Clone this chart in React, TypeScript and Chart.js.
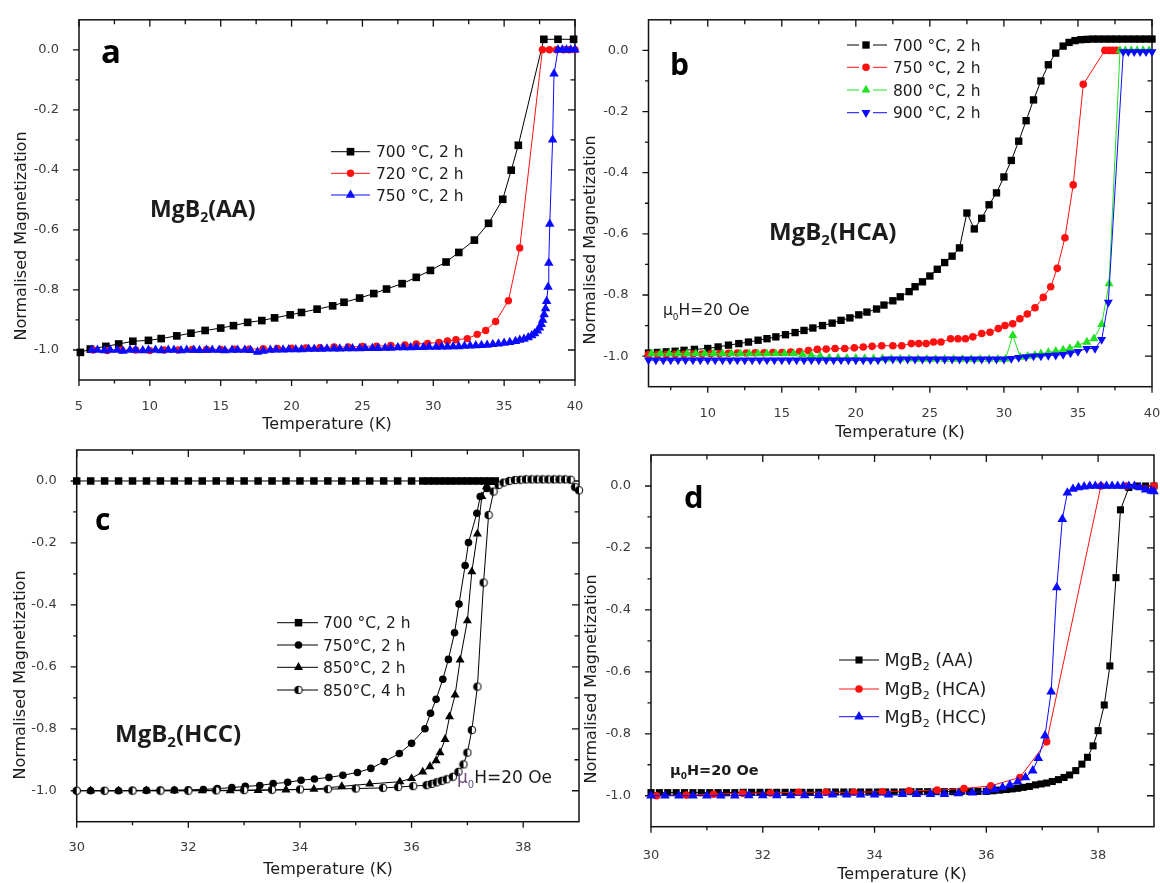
import React, { useEffect, useRef } from 'react';
import { Chart, registerables } from 'chart.js';
import { drawPoint } from 'chart.js/helpers';

Chart.register(...registerables);

const PAGE_W = 1160;
const PAGE_H = 883;
const CANVAS_W = 1200;
const CANVAS_H = 920;
const SANS = '"DejaVu Sans", "Liberation Sans", sans-serif';
const HEAVY = '"Open Sans", "DejaVu Sans", sans-serif';
const INK = '#1c1c1c';
const TICK_COLOR = '#3b3b3b';
const BLACK = '#000000';
const RED = '#ff1010';
const BLUE = '#0a0aff';
const GREEN = '#22e022';

// ---------- axes ----------
const yMajor = [-1.0, -0.8, -0.6, -0.4, -0.2, 0.0];
const yLabels = ['-1.0', '-0.8', '-0.6', '-0.4', '-0.2', '0.0'];
const yMinor = [-0.9, -0.7, -0.5, -0.3, -0.1];
const yRange = [-1.1, 0.1];

const xMajorA = [5, 10, 15, 20, 25, 30, 35, 40];
const xLabelsA = ['5', '10', '15', '20', '25', '30', '35', '40'];
const xMinorA = [7.5, 12.5, 17.5, 22.5, 27.5, 32.5, 37.5];

const xMajorB = [10, 15, 20, 25, 30, 35, 40];
const xLabelsB = ['10', '15', '20', '25', '30', '35', '40'];
const xMinorB = [7.5, 12.5, 17.5, 22.5, 27.5, 32.5, 37.5];

const xMajorCD = [30, 32, 34, 36, 38];
const xLabelsCD = ['30', '32', '34', '36', '38'];
const xMinorCD = [31, 33, 35, 37];

// ---------- (a) MgB2(AA) ----------
const legA = ['700 °C, 2 h', '720 °C, 2 h', '750 °C, 2 h'];
const aT700 = [5.1, 5.8, 6.9, 7.8, 8.8, 9.9, 10.8, 11.9, 12.9, 13.9, 15.0, 15.9, 16.9, 17.9, 18.8, 19.9, 20.7, 21.8, 22.9, 23.7, 24.8, 25.8, 26.7, 27.8, 28.8, 29.8, 30.9, 31.8, 32.9, 33.9, 34.9, 35.5, 36.0, 37.8, 38.8, 39.9];
const aM700 = [-1.008, -0.997, -0.988, -0.98, -0.971, -0.968, -0.962, -0.953, -0.944, -0.935, -0.927, -0.919, -0.908, -0.902, -0.893, -0.883, -0.875, -0.864, -0.853, -0.841, -0.827, -0.812, -0.797, -0.779, -0.758, -0.735, -0.707, -0.675, -0.634, -0.578, -0.498, -0.401, -0.318, 0.035, 0.035, 0.035];
const aT720 = [6.0, 7.0, 8.0, 9.0, 10.0, 11.0, 12.0, 13.0, 14.0, 15.0, 16.0, 17.0, 18.0, 19.0, 20.0, 21.0, 22.0, 23.0, 24.0, 25.0, 26.0, 27.0, 28.0, 28.8, 29.6, 30.4, 31.0, 31.6, 32.4, 33.1, 33.7, 34.4, 35.3, 36.1, 37.7, 38.2, 38.7, 39.2, 39.6, 40.0];
const aM720 = [-1.0, -1.002, -1.0, -1.0, -1.002, -1.0, -1.0, -0.998, -0.998, -0.998, -0.997, -0.997, -0.996, -0.995, -0.994, -0.993, -0.992, -0.99, -0.99, -0.988, -0.987, -0.985, -0.983, -0.98, -0.978, -0.975, -0.97, -0.966, -0.962, -0.948, -0.935, -0.905, -0.836, -0.66, 0, 0, 0, 0, 0, 0];
const aT750 = [5.9, 6.3, 6.8, 7.2, 7.7, 8.1, 8.6, 9.0, 9.5, 9.9, 10.4, 10.8, 11.3, 11.7, 12.2, 12.6, 13.1, 13.5, 14.0, 14.4, 14.9, 15.3, 15.8, 16.2, 16.7, 17.1, 17.6, 18.0, 18.5, 18.9, 19.4, 19.8, 20.3, 20.7, 21.2, 21.6, 22.1, 22.5, 23.0, 23.4, 23.9, 24.3, 24.8, 25.2, 25.7, 26.1, 26.6, 27.0, 27.5, 27.9, 28.4, 28.8, 29.3, 29.7, 30.2, 30.6, 31.0, 31.4, 31.8, 32.2, 32.6, 33.0, 33.4, 33.8, 34.2, 34.6, 35.0, 35.4, 35.8, 36.1, 36.4, 36.7, 36.95, 37.15, 37.35, 37.5, 37.62, 37.72, 37.82, 37.92, 38.0, 38.1, 38.15, 38.22, 38.42, 38.52, 38.8, 39.1, 39.4, 39.7, 40.0];
const aM750 = [-1.0, -1.0, -1.002, -1.0, -1.0, -1.003, -1.0, -1.0, -1.002, -1.0, -1.0, -1.002, -1.0, -1.0, -1.002, -1.0, -1.0, -1.001, -1.0, -1.0, -1.0, -1.002, -1.0, -1.0, -1.0, -1.001, -1.007, -1.003, -1.0, -0.999, -0.999, -0.998, -0.998, -0.998, -0.997, -0.997, -0.997, -0.996, -0.996, -0.996, -0.995, -0.995, -0.995, -0.994, -0.994, -0.994, -0.993, -0.993, -0.992, -0.992, -0.992, -0.991, -0.991, -0.99, -0.99, -0.989, -0.989, -0.988, -0.988, -0.987, -0.986, -0.985, -0.984, -0.983, -0.981, -0.979, -0.977, -0.974, -0.971, -0.967, -0.963, -0.958, -0.952, -0.945, -0.936, -0.926, -0.914, -0.9, -0.882, -0.862, -0.838, -0.79, -0.71, -0.58, -0.3, -0.08, 0, 0, 0, 0, 0];

// ---------- (b) MgB2(HCA) ----------
const legB = ['700 °C, 2 h', '750 °C, 2 h', '800 °C, 2 h', '900 °C, 2 h'];
const bT700 = [6.0, 6.6, 7.2, 7.8, 8.4, 9.1, 10.0, 10.7, 11.4, 12.1, 12.75, 13.4, 14.0, 14.6, 15.25, 15.9, 16.5, 17.1, 17.75, 18.4, 19.0, 19.6, 20.2, 20.75, 21.4, 21.9, 22.5, 23.0, 23.6, 24.0, 24.5, 25.0, 25.5, 26.0, 26.5, 27.0, 27.5, 28.0, 28.5, 29.0, 29.5, 30.0, 30.5, 31.0, 31.5, 32.0, 32.5, 33.0, 33.5, 34.0, 34.4, 34.8, 35.2, 35.6, 36.0, 36.4, 36.8, 37.2, 37.6, 38.0, 38.4, 38.8, 39.2, 39.6, 40.0];
const bM700 = [-0.99, -0.988, -0.986, -0.984, -0.981, -0.978, -0.975, -0.97, -0.964, -0.959, -0.954, -0.948, -0.943, -0.937, -0.93, -0.923, -0.916, -0.908, -0.9, -0.892, -0.883, -0.875, -0.865, -0.856, -0.846, -0.833, -0.819, -0.806, -0.789, -0.773, -0.757, -0.738, -0.716, -0.694, -0.673, -0.646, -0.532, -0.584, -0.549, -0.505, -0.466, -0.414, -0.36, -0.297, -0.23, -0.162, -0.1, -0.047, -0.009, 0.014, 0.026, 0.032, 0.035, 0.036, 0.037, 0.037, 0.037, 0.037, 0.037, 0.037, 0.037, 0.037, 0.037, 0.037, 0.037];
const bT750 = [6.0, 6.6, 7.2, 7.8, 8.4, 9.0, 9.6, 10.2, 10.8, 11.4, 12.0, 12.6, 13.2, 13.8, 14.4, 15.0, 15.6, 16.2, 16.8, 17.4, 18.0, 18.6, 19.25, 19.9, 20.5, 21.1, 21.75, 22.5, 23.1, 23.75, 24.25, 24.75, 25.25, 25.75, 26.4, 26.9, 27.4, 27.9, 28.5, 29.06, 29.62, 30.07, 30.59, 31.08, 31.58, 32.1, 32.66, 33.16, 33.6, 34.12, 34.68, 35.36, 36.82, 37.1, 37.35, 37.6];
const bM750 = [-0.995, -0.995, -0.995, -0.994, -0.994, -0.993, -0.993, -0.992, -0.992, -0.991, -0.99, -0.99, -0.989, -0.989, -0.988, -0.988, -0.987, -0.985, -0.982, -0.978, -0.977, -0.975, -0.975, -0.973, -0.97, -0.968, -0.966, -0.966, -0.966, -0.959, -0.959, -0.959, -0.954, -0.954, -0.943, -0.943, -0.943, -0.937, -0.926, -0.922, -0.91, -0.9, -0.894, -0.878, -0.862, -0.842, -0.808, -0.773, -0.713, -0.613, -0.44, -0.111, 0, 0, 0, 0];
const bT800 = [6.2, 6.8, 7.4, 8.0, 8.6, 9.2, 9.8, 10.4, 11.0, 11.6, 12.2, 12.8, 13.4, 14.0, 14.6, 15.2, 15.8, 16.4, 17.0, 17.6, 18.2, 18.8, 19.4, 20.0, 20.6, 21.2, 21.8, 22.4, 23.0, 23.6, 24.2, 24.8, 25.4, 26.0, 26.6, 27.2, 27.8, 28.4, 29.0, 29.6, 30.1, 30.6, 31.1, 31.6, 32.1, 32.5, 33.0, 33.5, 34.0, 34.45, 35.0, 35.6, 36.08, 36.6, 37.1, 37.84, 38.2, 38.6, 39.0, 39.4, 39.8];
const bM800 = [-0.992, -0.992, -0.992, -0.992, -0.992, -0.992, -0.992, -0.992, -0.992, -0.992, -0.992, -0.992, -0.992, -0.992, -0.992, -0.992, -0.992, -0.995, -0.998, -1.0, -1.006, -1.006, -1.007, -1.007, -1.008, -1.008, -1.008, -1.009, -1.009, -1.009, -1.01, -1.01, -1.01, -1.01, -1.01, -1.01, -1.01, -1.01, -1.01, -1.01, -1.01, -0.932, -1.003, -1.0, -0.997, -0.992, -0.988, -0.984, -0.98, -0.975, -0.964, -0.954, -0.943, -0.896, -0.763, 0, 0, 0, 0, 0, 0];
const bT900 = [6.0, 6.5, 7.0, 7.5, 8.0, 8.5, 9.0, 9.5, 10.0, 10.5, 11.0, 11.5, 12.0, 12.5, 13.0, 13.5, 14.0, 14.5, 15.0, 15.5, 16.0, 16.5, 17.0, 17.5, 18.0, 18.5, 19.0, 19.5, 20.0, 20.5, 21.0, 21.5, 22.0, 22.5, 23.0, 23.5, 24.0, 24.5, 25.0, 25.5, 26.0, 26.5, 27.0, 27.5, 28.0, 28.5, 29.0, 29.5, 30.0, 30.5, 31.0, 31.5, 32.0, 32.5, 33.0, 33.5, 34.0, 34.5, 35.0, 35.6, 36.15, 36.6, 37.05, 38.06, 38.4, 38.8, 39.2, 39.6, 40.0];
const bM900 = [-1.013, -1.013, -1.013, -1.013, -1.013, -1.013, -1.013, -1.013, -1.013, -1.013, -1.013, -1.013, -1.013, -1.013, -1.013, -1.013, -1.013, -1.013, -1.013, -1.013, -1.013, -1.013, -1.013, -1.013, -1.013, -1.013, -1.013, -1.013, -1.013, -1.013, -1.013, -1.013, -1.01, -1.01, -1.01, -1.01, -1.01, -1.01, -1.01, -1.01, -1.01, -1.01, -1.01, -1.01, -1.01, -1.01, -1.01, -1.01, -1.01, -1.008, -1.005, -1.002, -1.0, -1.0, -0.998, -0.997, -0.995, -0.99, -0.985, -0.975, -0.975, -0.946, -0.824, -0.005, -0.005, -0.005, -0.005, -0.005, -0.005];

// ---------- (c) MgB2(HCC) ----------
const legC = ['700 °C, 2 h', '750°C, 2 h', '850°C, 2 h', '850°C, 4 h'];
const cT700 = [30.0, 30.25, 30.5, 30.75, 31.0, 31.25, 31.5, 31.75, 32.0, 32.25, 32.5, 32.75, 33.0, 33.25, 33.5, 33.75, 34.0, 34.25, 34.5, 34.75, 35.0, 35.25, 35.5, 35.75, 36.0, 36.2, 36.3, 36.4, 36.5, 36.6, 36.7, 36.8, 36.9, 37.0, 37.1, 37.2, 37.3, 37.4, 37.5];
const cM700 = [0, 0, 0, 0, 0, 0, 0, 0, 0, 0, 0, 0, 0, 0, 0, 0, 0, 0, 0, 0, 0, 0, 0, 0, 0, 0, 0, 0, 0, 0, 0, 0, 0, 0, 0, 0, 0, 0, 0];
const cT750 = [30.0, 30.25, 30.5, 30.75, 31.0, 31.25, 31.5, 31.75, 32.0, 32.27, 32.52, 32.78, 33.02, 33.28, 33.52, 33.78, 34.02, 34.26, 34.52, 34.77, 35.03, 35.27, 35.51, 35.78, 36.0, 36.24, 36.34, 36.44, 36.56, 36.66, 36.77, 36.85, 36.96, 37.02, 37.17, 37.23, 37.35];
const cM750 = [-1.0, -1.0, -1.0, -1.0, -0.999, -0.999, -0.998, -0.998, -0.997, -0.996, -0.993, -0.99, -0.986, -0.983, -0.977, -0.973, -0.966, -0.962, -0.957, -0.95, -0.941, -0.928, -0.906, -0.88, -0.847, -0.8, -0.75, -0.705, -0.64, -0.576, -0.49, -0.397, -0.273, -0.199, -0.104, -0.05, -0.024];
const cT850a = [30.25, 30.75, 31.25, 31.75, 32.25, 32.75, 33.25, 33.75, 34.25, 34.75, 35.25, 35.79, 36.0, 36.2, 36.33, 36.44, 36.51, 36.6, 36.68, 36.78, 36.87, 37.0, 37.08, 37.18, 37.26, 37.34, 37.45];
const cM850a = [-1.0, -1.0, -1.0, -1.0, -1.0, -1.0, -0.999, -0.997, -0.995, -0.986, -0.978, -0.971, -0.96, -0.939, -0.922, -0.903, -0.877, -0.834, -0.761, -0.691, -0.578, -0.451, -0.293, -0.171, -0.05, -0.018, -0.005];
const cT850b = [30.0, 30.5, 31.0, 31.5, 32.0, 32.5, 33.0, 33.5, 34.0, 34.5, 35.0, 35.49, 35.76, 36.03, 36.27, 36.36, 36.45, 36.54, 36.63, 36.74, 36.84, 36.93, 37.0, 37.08, 37.18, 37.29, 37.38, 37.47, 37.56, 37.65, 37.75, 37.85, 37.95, 38.05, 38.15, 38.25, 38.35, 38.45, 38.55, 38.65, 38.75, 38.85, 38.93, 39.0];
const cM850b = [-1.0, -1.0, -1.0, -1.0, -1.0, -0.999, -0.998, -0.997, -0.996, -0.995, -0.993, -0.991, -0.988, -0.985, -0.982, -0.978, -0.973, -0.968, -0.963, -0.955, -0.939, -0.915, -0.877, -0.804, -0.664, -0.328, -0.11, -0.034, -0.013, -0.005, 0.0, 0.003, 0.004, 0.005, 0.005, 0.005, 0.005, 0.005, 0.005, 0.005, 0.005, 0.004, -0.02, -0.03];

// ---------- (d) comparison ----------
const legD = ['(AA)', '(HCA)', '(HCC)'];
const dT_AA = [30.0, 30.15, 30.3, 30.45, 30.6, 30.75, 30.9, 31.05, 31.2, 31.35, 31.5, 31.65, 31.8, 31.95, 32.1, 32.25, 32.4, 32.55, 32.7, 32.85, 33.0, 33.15, 33.3, 33.45, 33.6, 33.75, 33.9, 34.05, 34.2, 34.35, 34.5, 34.65, 34.8, 34.95, 35.1, 35.25, 35.4, 35.55, 35.7, 35.85, 36.0, 36.12, 36.24, 36.36, 36.46, 36.56, 36.66, 36.77, 36.88, 36.98, 37.08, 37.18, 37.29, 37.39, 37.49, 37.6, 37.71, 37.81, 37.91, 38.0, 38.11, 38.21, 38.32, 38.4, 38.55, 38.7, 38.85, 39.0];
const dM_AA = [-0.99, -0.99, -0.99, -0.99, -0.99, -0.99, -0.99, -0.99, -0.99, -0.99, -0.99, -0.989, -0.989, -0.989, -0.989, -0.989, -0.989, -0.989, -0.989, -0.989, -0.989, -0.988, -0.988, -0.988, -0.988, -0.988, -0.988, -0.988, -0.988, -0.988, -0.988, -0.987, -0.987, -0.987, -0.987, -0.987, -0.987, -0.986, -0.986, -0.986, -0.986, -0.984, -0.982, -0.98, -0.978, -0.976, -0.973, -0.97, -0.965, -0.962, -0.959, -0.954, -0.948, -0.941, -0.933, -0.919, -0.898, -0.876, -0.839, -0.79, -0.707, -0.581, -0.296, -0.077, -0.005, 0.0, 0.0, 0.0];
const dT_HCA = [30.1, 30.63, 31.12, 31.64, 32.14, 32.64, 33.13, 33.63, 34.14, 34.62, 35.12, 35.6, 36.08, 36.6, 37.08, 38.05, 38.5, 39.0];
const dM_HCA = [-1.0, -0.998, -0.995, -0.992, -0.991, -0.989, -0.989, -0.989, -0.987, -0.984, -0.982, -0.977, -0.968, -0.941, -0.826, 0.0, 0.0, 0.0];
const dT_HCC = [30.0, 30.25, 30.5, 30.75, 31.0, 31.25, 31.5, 31.75, 32.0, 32.25, 32.5, 32.75, 33.0, 33.25, 33.5, 33.75, 34.0, 34.25, 34.5, 34.75, 35.0, 35.25, 35.5, 35.75, 36.0, 36.15, 36.29, 36.42, 36.56, 36.7, 36.83, 36.93, 37.05, 37.16, 37.26, 37.36, 37.45, 37.55, 37.65, 37.75, 37.85, 37.95, 38.05, 38.15, 38.25, 38.35, 38.45, 38.55, 38.65, 38.75, 38.85, 38.95, 39.0];
const dM_HCC = [-1.0, -1.0, -1.0, -1.0, -1.0, -1.0, -1.0, -0.999, -0.999, -0.999, -0.999, -0.999, -0.999, -0.997, -0.997, -0.997, -0.997, -0.997, -0.995, -0.995, -0.995, -0.995, -0.993, -0.99, -0.986, -0.98, -0.973, -0.965, -0.955, -0.941, -0.919, -0.879, -0.806, -0.664, -0.328, -0.107, -0.022, -0.01, -0.005, -0.002, 0, 0, 0, 0, 0, 0, 0, 0, 0, -0.005, -0.012, -0.016, -0.018];

// ---------- drawing helpers ----------
type Run = { text: string; size: number; bold?: boolean; family?: string; dy?: number; color?: string };

function drawRuns(ctx: CanvasRenderingContext2D, x: number, y: number, runs: Run[]) {
  let cx = x;
  ctx.textAlign = 'left';
  ctx.textBaseline = 'alphabetic';
  for (const r of runs) {
    ctx.font = `${r.bold ? '700 ' : ''}${r.size}px ${r.family ?? SANS}`;
    ctx.fillStyle = r.color ?? INK;
    ctx.fillText(r.text, cx, y + (r.dy ?? 0));
    cx += ctx.measureText(r.text).width;
  }
}

function sub2(main: string, tail: string, size: number, family: string, bold: boolean): Run[] {
  return [
    { text: main, size, family, bold },
    { text: '2', size: Math.round(size * 0.62), family, bold, dy: size * 0.22 },
    { text: tail, size, family, bold },
  ];
}

function mu0H(size: number, bold: boolean, muColor: string): Run[] {
  return [
    { text: 'μ', size, bold, color: muColor },
    { text: '0', size: Math.round(size * 0.6), bold, dy: size * 0.3, color: muColor },
    { text: 'H=20 Oe', size, bold },
  ];
}

function yTitle(ctx: CanvasRenderingContext2D, cx: number, cy: number) {
  ctx.save();
  ctx.translate(cx, cy);
  ctx.rotate(-Math.PI / 2);
  ctx.font = `16px ${SANS}`;
  ctx.fillStyle = INK;
  ctx.textAlign = 'center';
  ctx.textBaseline = 'middle';
  ctx.fillText('Normalised Magnetization', 0, 0);
  ctx.restore();
}

function xTitle(ctx: CanvasRenderingContext2D, cx: number, cy: number) {
  ctx.font = `16px ${SANS}`;
  ctx.fillStyle = INK;
  ctx.textAlign = 'center';
  ctx.textBaseline = 'middle';
  ctx.fillText('Temperature (K)', cx, cy);
}

function panelLetter(ctx: CanvasRenderingContext2D, ch: string, x: number, y: number, size: number) {
  ctx.font = `700 ${size}px ${HEAVY}`;
  ctx.fillStyle = '#000';
  ctx.textAlign = 'left';
  ctx.textBaseline = 'alphabetic';
  ctx.fillText(ch, x, y);
}

type Series = { T: number[]; M: number[]; color: string; style: any; radius: number; rotation?: number };

type LegendCfg = { x0: number; x1: number; mx: number; tx: number; rows: number[]; size: number; gap?: number };

function drawLegend(ctx: CanvasRenderingContext2D, series: Series[], texts: Run[][], cfg: LegendCfg) {
  series.forEach((s, i) => {
    const y = cfg.rows[i];
    ctx.save();
    ctx.strokeStyle = s.color;
    ctx.lineWidth = 1;
    ctx.beginPath();
    if (cfg.gap) {
      ctx.moveTo(cfg.x0, y); ctx.lineTo(cfg.mx - cfg.gap, y);
      ctx.moveTo(cfg.mx + cfg.gap, y); ctx.lineTo(cfg.x1, y);
    } else {
      ctx.moveTo(cfg.x0, y); ctx.lineTo(cfg.x1, y);
    }
    ctx.stroke();
    ctx.fillStyle = s.color;
    ctx.strokeStyle = s.color;
    drawPoint(ctx, { pointStyle: s.style, rotation: s.rotation ?? 0, radius: s.radius, borderWidth: 0 } as any, cfg.mx, y);
    ctx.restore();
    drawRuns(ctx, cfg.tx, y + cfg.size * 0.36, texts[i]);
  });
}

let halfDisc: HTMLCanvasElement | null = null;
function halfFilledCircle(): HTMLCanvasElement {
  if (halfDisc) return halfDisc;
  const r = 3.8;
  const s = 10;
  const c = document.createElement('canvas');
  c.width = s;
  c.height = s;
  const g = c.getContext('2d')!;
  const m = s / 2;
  g.fillStyle = '#fff';
  g.beginPath(); g.arc(m, m, r, 0, Math.PI * 2); g.fill();
  g.fillStyle = '#000';
  g.beginPath(); g.arc(m, m, r, Math.PI / 2, (3 * Math.PI) / 2); g.closePath(); g.fill();
  g.strokeStyle = '#000';
  g.lineWidth = 1;
  g.beginPath(); g.arc(m, m, r, 0, Math.PI * 2); g.stroke();
  halfDisc = c;
  return c;
}

// ---------- panels ----------
type PanelDef = {
  box: { left: number; right: number; top: number; bottom: number };
  xRange: number[];
  xMajor: number[];
  xLabels: string[];
  xMinor: number[];
  xPad: number;
  series: () => Series[];
  draw: (ctx: CanvasRenderingContext2D, s: Series[]) => void;
};

const panels: PanelDef[] = [
  {
    box: { left: 79, right: 575, top: 13.3, bottom: 380 },
    xRange: [5, 40], xMajor: xMajorA, xLabels: xLabelsA, xMinor: xMinorA, xPad: 11,
    series: () => [
      { T: aT700, M: aM700, color: BLACK, style: 'rect', radius: 5.4 },
      { T: aT720, M: aM720, color: RED, style: 'circle', radius: 3.7 },
      { T: aT750, M: aM750, color: BLUE, style: 'triangle', radius: 5.5 },
    ],
    draw(ctx, s) {
      panelLetter(ctx, 'a', 101, 63, 33);
      drawRuns(ctx, 150, 217, sub2('MgB', '(AA)', 23, HEAVY, true));
      drawLegend(ctx, s, legA.map((t) => [{ text: t, size: 15.5 }]),
        { x0: 331, x1: 370, mx: 350.5, tx: 376, rows: [151.7, 173.3, 195], size: 15.5 });
      yTitle(ctx, 22, 236);
      xTitle(ctx, 327, 425);
    },
  },
  {
    box: { left: 648.5, right: 1152, top: 15, bottom: 386.7 },
    xRange: [6, 40], xMajor: xMajorB, xLabels: xLabelsB, xMinor: xMinorB, xPad: 11.5,
    series: () => [
      { T: bT700, M: bM700, color: BLACK, style: 'rect', radius: 5.2 },
      { T: bT750, M: bM750, color: RED, style: 'circle', radius: 3.8 },
      { T: bT800, M: bM800, color: GREEN, style: 'triangle', radius: 5.2 },
      { T: bT900, M: bM900, color: BLUE, style: 'triangle', radius: 5.2, rotation: 180 },
    ],
    draw(ctx, s) {
      panelLetter(ctx, 'b', 670, 75, 30);
      drawRuns(ctx, 769, 239.5, sub2('MgB', '(HCA)', 24, HEAVY, true));
      drawLegend(ctx, s, legB.map((t) => [{ text: t, size: 15.5 }]),
        { x0: 847, x1: 887, mx: 866, tx: 893, rows: [45, 67.3, 90, 112.7], size: 15.5, gap: 7 });
      drawRuns(ctx, 663, 315, mu0H(15.5, false, INK));
      yTitle(ctx, 591, 240);
      xTitle(ctx, 900, 433);
    },
  },
  {
    box: { left: 76.7, right: 579, top: 450, bottom: 821.7 },
    xRange: [30, 39], xMajor: xMajorCD, xLabels: xLabelsCD, xMinor: xMinorCD, xPad: 10.5,
    series: () => [
      { T: cT700, M: cM700, color: BLACK, style: 'rect', radius: 5.3 },
      { T: cT750, M: cM750, color: BLACK, style: 'circle', radius: 3.8 },
      { T: cT850a, M: cM850a, color: BLACK, style: 'triangle', radius: 5.2 },
      { T: cT850b, M: cM850b, color: BLACK, style: halfFilledCircle(), radius: 3.8 },
    ],
    draw(ctx, s) {
      panelLetter(ctx, 'c', 95, 530, 30);
      drawRuns(ctx, 115, 741.5, sub2('MgB', '(HCC)', 24, HEAVY, true));
      drawLegend(ctx, s, legC.map((t) => [{ text: t, size: 15.5 }]),
        { x0: 277, x1: 318, mx: 298.5, tx: 323, rows: [622.7, 645, 667.3, 690], size: 15.5 });
      drawRuns(ctx, 457, 783, mu0H(17, false, '#6b4a78'));
      yTitle(ctx, 21, 675);
      xTitle(ctx, 328, 870);
    },
  },
  {
    box: { left: 651, right: 1154, top: 455, bottom: 826.7 },
    xRange: [30, 39], xMajor: xMajorCD, xLabels: xLabelsCD, xMinor: xMinorCD, xPad: 13.5,
    series: () => [
      { T: dT_AA, M: dM_AA, color: BLACK, style: 'rect', radius: 5 },
      { T: dT_HCA, M: dM_HCA, color: RED, style: 'circle', radius: 3.8 },
      { T: dT_HCC, M: dM_HCC, color: BLUE, style: 'triangle', radius: 5.6 },
    ],
    draw(ctx, s) {
      panelLetter(ctx, 'd', 684, 508, 31);
      drawLegend(ctx, s, legD.map((t) => sub2('MgB', ' ' + t, 17.5, SANS, false)),
        { x0: 839, x1: 879, mx: 859, tx: 884.5, rows: [660, 689, 716.7], size: 17.5 });
      drawRuns(ctx, 670, 775, mu0H(14.5, true, INK));
      yTitle(ctx, 592, 679);
      xTitle(ctx, 902, 875);
    },
  },
];

// ---------- chart plumbing ----------
function labelFor(v: number, majors: number[], labels: string[]) {
  const i = majors.findIndex((m) => Math.abs(m - v) < 1e-6);
  return i >= 0 ? labels[i] : '';
}

const framePlugin = {
  id: 'originFrame',
  beforeDatasetsDraw(chart: any) {
    const { ctx, chartArea: a, scales } = chart;
    const x = scales.x;
    const y = scales.y;
    ctx.save();
    ctx.strokeStyle = '#111';
    ctx.lineWidth = 1.5;
    ctx.strokeRect(a.left, a.top, a.right - a.left, a.bottom - a.top);
    ctx.lineWidth = 1.3;
    ctx.beginPath();
    for (const t of x.ticks) {
      const px = x.getPixelForValue(t.value);
      const major = t.label !== '';
      const out = major ? 6 : 3.5;
      const inn = major ? 7 : 4.5;
      ctx.moveTo(px, a.bottom); ctx.lineTo(px, a.bottom + out);
      ctx.moveTo(px, a.top); ctx.lineTo(px, a.top + inn);
    }
    for (const t of y.ticks) {
      const py = y.getPixelForValue(t.value);
      const major = t.label !== '';
      const out = major ? 6 : 3.5;
      const inn = major ? 7 : 4.5;
      ctx.moveTo(a.left - out, py); ctx.lineTo(a.left, py);
      ctx.moveTo(a.right, py); ctx.lineTo(a.right - inn, py);
    }
    ctx.stroke();
    ctx.restore();
  },
};

function buildChart(canvas: HTMLCanvasElement, def: PanelDef) {
  const YW = 50;
  const XH = 40;
  const b = def.box;
  const series = def.series();
  const n = series.length;
  const datasets = series.map((s, i) => ({
    data: s.T.map((t, k) => ({ x: t, y: s.M[k] })),
    showLine: true,
    borderColor: s.color,
    borderWidth: 1,
    backgroundColor: s.color,
    pointStyle: s.style,
    pointRotation: s.rotation ?? 0,
    pointRadius: s.radius,
    pointHoverRadius: s.radius,
    pointBackgroundColor: s.color,
    pointBorderColor: s.color,
    pointBorderWidth: 0,
    clip: false,
    order: n - i,
  }));
  const overlay = {
    id: 'panelText',
    afterDraw(chart: any) {
      const ctx = chart.ctx;
      ctx.save();
      def.draw(ctx, series);
      ctx.restore();
    },
  };
  return new Chart(canvas, {
    type: 'scatter',
    data: { datasets } as any,
    options: {
      animation: false,
      responsive: false,
      devicePixelRatio: 1,
      events: [],
      layout: {
        padding: { left: b.left - YW, right: CANVAS_W - b.right, top: b.top, bottom: CANVAS_H - b.bottom - XH },
      },
      plugins: { legend: { display: false }, tooltip: { enabled: false }, title: { display: false } },
      scales: {
        x: {
          type: 'linear',
          position: 'bottom',
          min: def.xRange[0],
          max: def.xRange[1],
          grid: { display: false },
          border: { display: false },
          afterFit: (s: any) => { s.height = XH; },
          afterBuildTicks: (s: any) => {
            s.ticks = [...def.xMajor, ...def.xMinor].sort((p, q) => p - q).map((v) => ({ value: v }));
          },
          ticks: {
            autoSkip: false, maxRotation: 0, minRotation: 0, padding: def.xPad,
            color: TICK_COLOR, font: { family: SANS, size: 13 },
            callback: (v: any) => labelFor(Number(v), def.xMajor, def.xLabels),
          },
        },
        y: {
          type: 'linear',
          position: 'left',
          min: yRange[0],
          max: yRange[1],
          grid: { display: false },
          border: { display: false },
          afterFit: (s: any) => { s.width = YW; },
          afterBuildTicks: (s: any) => {
            s.ticks = [...yMajor, ...yMinor].sort((p, q) => p - q).map((v) => ({ value: v }));
          },
          ticks: {
            autoSkip: false, padding: 12,
            color: TICK_COLOR, font: { family: SANS, size: 13 },
            callback: (v: any) => labelFor(Number(v), yMajor, yLabels),
          },
        },
      },
    } as any,
    plugins: [framePlugin, overlay],
  });
}

function Panel({ def }: { def: PanelDef }) {
  const ref = useRef<HTMLCanvasElement>(null);
  useEffect(() => {
    const chart = buildChart(ref.current!, def);
    return () => chart.destroy();
  }, [def]);
  return (
    <canvas
      ref={ref}
      width={CANVAS_W}
      height={CANVAS_H}
      style={{ position: 'absolute', left: 0, top: 0, width: CANVAS_W, height: CANVAS_H }}
    />
  );
}

export default function App() {
  return (
    <div
      style={{
        position: 'absolute', left: 0, top: 0, width: PAGE_W, height: PAGE_H,
        overflow: 'hidden', background: '#ffffff',
      }}
    >
      {panels.map((p, i) => (
        <Panel key={i} def={p} />
      ))}
    </div>
  );
}
